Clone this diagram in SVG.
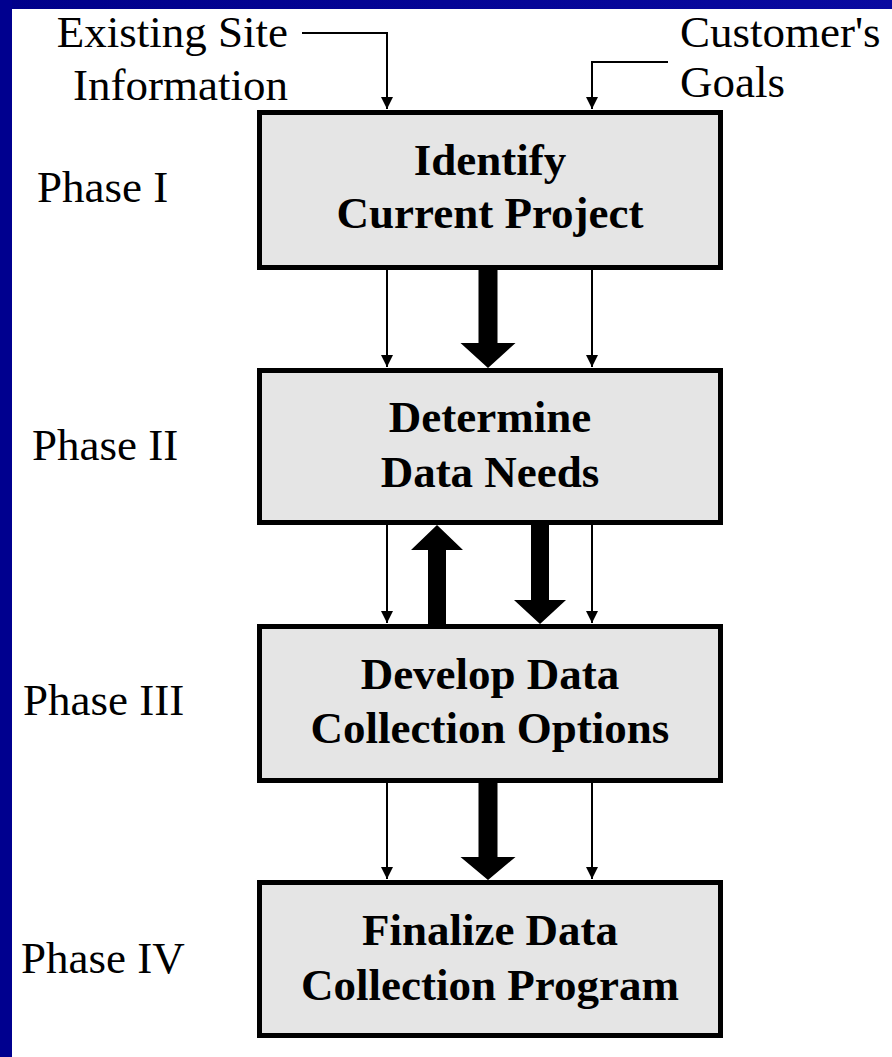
<svg xmlns="http://www.w3.org/2000/svg" width="892" height="1057" viewBox="0 0 892 1057">
<defs>
<linearGradient id="bar" x1="0" y1="0" x2="1" y2="0">
<stop offset="0" stop-color="#00008a"/>
<stop offset="1" stop-color="#0a0aa0"/>
</linearGradient>
<marker id="tip" markerWidth="14" markerHeight="14" refX="13" refY="7" orient="auto" markerUnits="userSpaceOnUse" viewBox="0 0 14 14">
<path d="M1,1 L13,7 L1,13 Z" fill="#000"/>
</marker>
<style>
.box{fill:#e5e5e5;stroke:#000;stroke-width:5;}
.bt{font-family:"Liberation Serif","Times New Roman",serif;font-weight:bold;font-size:45px;text-anchor:middle;fill:#000;}
.lbl{font-family:"Liberation Serif","Times New Roman",serif;font-size:45px;fill:#000;}
.thin{fill:none;stroke:#000;stroke-width:2;}
.thick{fill:#000;}
</style>
</defs>
<rect x="0" y="0" width="892" height="1057" fill="#fff"/>
<rect x="0" y="0" width="892" height="9" fill="url(#bar)"/>
<rect x="0" y="0" width="12" height="1057" fill="#00008f"/>

<g id="labels">
<text class="lbl" x="288" y="47" text-anchor="end">Existing Site</text>
<text class="lbl" x="288" y="100" text-anchor="end">Information</text>
<text class="lbl" x="680" y="47">Customer's</text>
<text class="lbl" x="680" y="97">Goals</text>
<text class="lbl" x="37" y="202">Phase I</text>
<text class="lbl" x="32" y="460">Phase II</text>
<text class="lbl" x="23" y="715">Phase III</text>
<text class="lbl" x="21" y="973">Phase IV</text>
</g>

<g id="node1">
<rect class="box" x="259.5" y="112.5" width="461" height="155"/>
<text class="bt" x="490" y="175">Identify</text>
<text class="bt" x="490" y="228">Current Project</text>
</g>
<g id="node2">
<rect class="box" x="259.5" y="370.5" width="461" height="152"/>
<text class="bt" x="490" y="432">Determine</text>
<text class="bt" x="490" y="487">Data Needs</text>
</g>
<g id="node3">
<rect class="box" x="259.5" y="626.5" width="461" height="154"/>
<text class="bt" x="490" y="689">Develop Data</text>
<text class="bt" x="490" y="743">Collection Options</text>
</g>
<g id="node4">
<rect class="box" x="259.5" y="882.5" width="461" height="153"/>
<text class="bt" x="490" y="945">Finalize Data</text>
<text class="bt" x="490" y="1000">Collection Program</text>
</g>

<g id="connectors">
<path class="thin" d="M302,33 H387 V109" marker-end="url(#tip)"/>
<path class="thin" d="M668,62 H592 V109" marker-end="url(#tip)"/>
<path class="thin" d="M387,270 V367" marker-end="url(#tip)"/>
<path class="thin" d="M592,270 V367" marker-end="url(#tip)"/>
<path class="thin" d="M387,525 V623" marker-end="url(#tip)"/>
<path class="thin" d="M592,525 V623" marker-end="url(#tip)"/>
<path class="thin" d="M387,783 V879" marker-end="url(#tip)"/>
<path class="thin" d="M592,783 V879" marker-end="url(#tip)"/>
<polygon class="thick" points="478.5,270 497.5,270 497.5,343 515.5,343 488,368 460.5,343 478.5,343"/>
<polygon class="thick" points="428,624 446,624 446,550 463,550 437,525 411,550 428,550"/>
<polygon class="thick" points="531,525 549,525 549,600 566,600 540,624 514,600 531,600"/>
<polygon class="thick" points="478.5,783 497.5,783 497.5,857 515.5,857 488,880 460.5,857 478.5,857"/>
</g>
</svg>
